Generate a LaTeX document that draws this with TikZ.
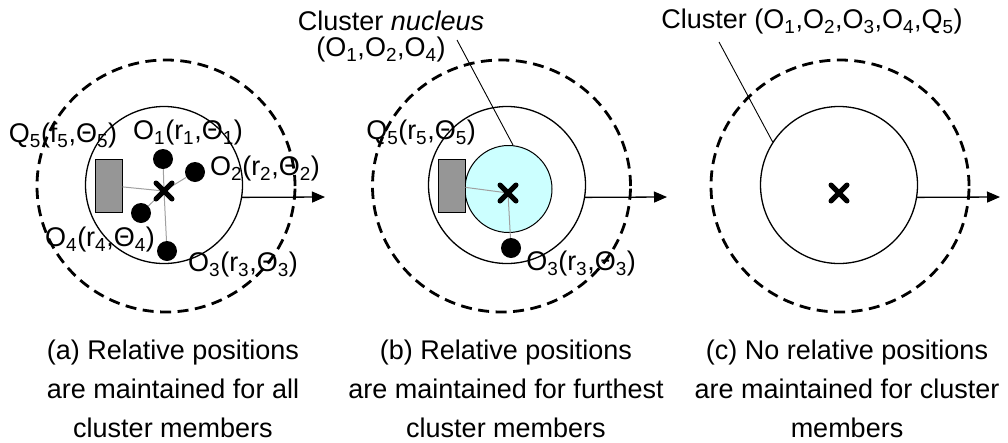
\documentclass[tikz,border=0pt]{standalone}
\usepackage{fontspec}
\setmainfont{Liberation Sans}
\usetikzlibrary{arrows.meta,shapes.geometric}
\definecolor{rectgray}{HTML}{969696}
\definecolor{linkgray}{HTML}{A0A0A0}
\definecolor{nucleuscol}{HTML}{CCFFFF}
\newcommand\sbx[1]{\textsubscript{#1}}
\begin{document}
\begin{tikzpicture}[x=1pt,y=-1pt,
  outer/.style={draw, ellipse, line width=2.8pt, dash pattern=on 11pt off 6.5pt, minimum width=258pt, minimum height=252pt, inner sep=0pt},
  inner/.style={draw, circle, line width=1.3pt, minimum size=157pt, inner sep=0pt},
  core/.style={draw, circle, line width=1pt, fill=nucleuscol, minimum size=87pt, inner sep=0pt},
  member/.style={circle, fill=black, minimum size=20pt, inner sep=0pt},
  block/.style={draw, line width=1pt, fill=rectgray, minimum width=27pt, minimum height=53pt, inner sep=0pt},
  link/.style={draw=linkgray, line width=1pt},
  xmark/.style={line width=5pt, line cap=round},
  motion/.style={line width=1.3pt, -{Triangle[length=13pt,width=11pt]}},
  leader/.style={line width=0.9pt},
  lbl/.style={font=\fontsize{27}{32}\selectfont, inner sep=0pt},
  captionbox/.style={font=\fontsize{27}{39}\selectfont, align=center, inner sep=0pt}]
\useasboundingbox (0,0) rectangle (1008,442);

% ---------- panel (a) ----------
\node[inner] (Ca) at (164,185) {};
\coordinate (xa) at (164,191);
\node[block] (Ra) at (108.5,185.5) {};
\node[member] (o1) at (163,159) {};
\node[member] (o2) at (195,172) {};
\node[member] (o4) at (141,213) {};
\node[member] (o3) at (167,251) {};
\draw[link] (Ra) -- (xa);
\draw[link] (o1) -- (xa);
\draw[link] (o2) -- (xa);
\draw[link] (o4) -- (xa);
\draw[link] (o3) -- (xa);
\draw[xmark] (xa) +(-8,-8) -- +(8,8) (xa) +(-8,8) -- +(8,-8);
\coordinate (ea) at (325,197);
\draw[motion] (Ca.-9) -- (ea);
\node[lbl] (lq5) at (63,136) {Q\sbx{5}(f\sbx{5},Θ\sbx{5})};
\node[lbl] (lo1) at (188,133) {O\sbx{1}(r\sbx{1},Θ\sbx{1})};
\node[lbl] (lo2) at (265,169) {O\sbx{2}(r\sbx{2},Θ\sbx{2})};
\node[lbl] (lo4) at (100,240) {O\sbx{4}(r\sbx{4},Θ\sbx{4})};
\node[lbl] (lo3) at (243,265) {O\sbx{3}(r\sbx{3},Θ\sbx{3})};
\node[outer] (Da) at (166,186) {};

% ---------- panel (b) ----------
\node[inner] (Cb) at (507,185) {};
\node[core] (Nb) at (508.5,189) {};
\coordinate (xb) at (508,193);
\node[block] (Rb) at (451.5,185.5) {};
\node[member] (o3b) at (511,248) {};
\draw[link] (Rb) -- (xb);
\draw[link] (o3b) -- (xb);
\draw[xmark] (xb) +(-8,-8) -- +(8,8) (xb) +(-8,8) -- +(8,-8);
\coordinate (eb) at (667,197);
\draw[motion] (Cb.-9) -- (eb);
\node[lbl] (lq5b) at (421,133) {Q\sbx{5}(r\sbx{5},Θ\sbx{5})};
\node[lbl] (lo3b) at (581,264) {O\sbx{3}(r\sbx{3},Θ\sbx{3})};
\node[lbl] (tnuc) at (391,21) {Cluster \textit{nucleus}};
\node[lbl] (tnucm) at (381,50) {(O\sbx{1},O\sbx{2},O\sbx{4})};
\coordinate (sb) at (457,40);
\draw[leader] (sb) -- (Nb.84);
\node[outer] (Db) at (501.5,186) {};

% ---------- panel (c) ----------
\node[inner] (Cc) at (839,185) {};
\coordinate (xc) at (839,193);
\draw[xmark] (xc) +(-8,-8) -- +(8,8) (xc) +(-8,8) -- +(8,-8);
\coordinate (ec) at (1000,197);
\draw[motion] (Cc.-9) -- (ec);
\node[lbl] (tcl) at (812,22) {Cluster (O\sbx{1},O\sbx{2},O\sbx{3},O\sbx{4},Q\sbx{5})};
\coordinate (sc) at (719,42);
\draw[leader] (sc) -- (Cc.147);
\node[outer] (Dc) at (840,186) {};

% ---------- captions ----------
\node[captionbox] (capa) at (173,389) {(a) Relative positions\\are maintained for all\\cluster members};
\node[captionbox] (capb) at (506,389) {(b) Relative positions\\are maintained for furthest\\cluster members};
\node[captionbox] (capc) at (847,389) {(c) No relative positions\\are maintained for cluster\\members};
\end{tikzpicture}
\end{document}
